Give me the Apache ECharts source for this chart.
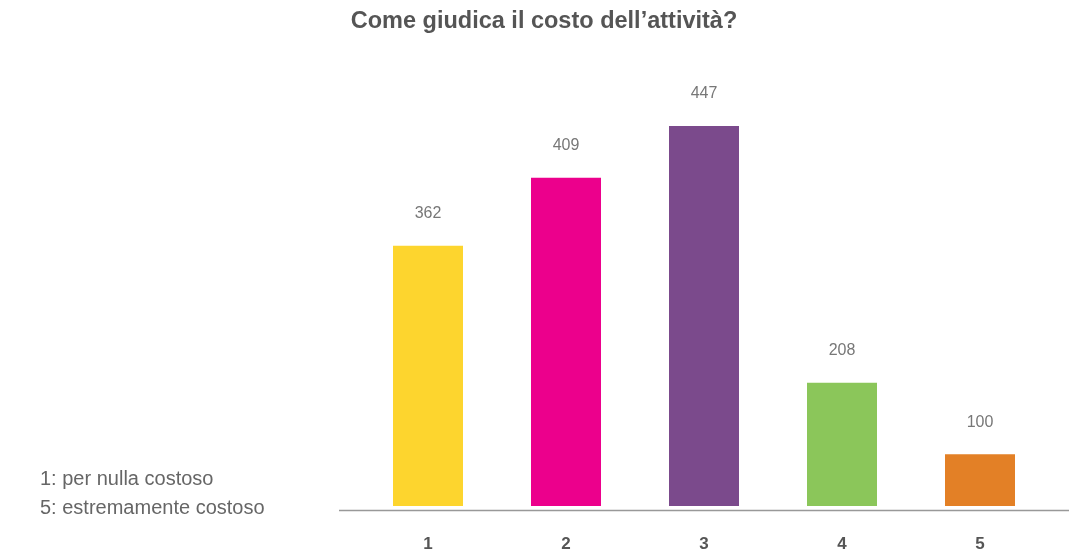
<!DOCTYPE html>
<html><head><meta charset="utf-8">
<script src="https://cdn.jsdelivr.net/npm/echarts@6/dist/echarts.min.js"></script>
<style>html,body{margin:0;padding:0;background:#fff}#c{width:1089px;height:558px}</style>
</head><body><div id="c"></div>
<script>
const title = 'Come giudica il costo dell\u2019attivit\u00e0?';
const categories = ['1', '2', '3', '4', '5'];
// numbers printed above the bars
const valueLabels = [362, 409, 447, 208, 100];
// bar lengths as drawn in the picture (the source chart is not to scale), in the same units as the tallest bar
const drawnHeights = [306, 386, 447, 145, 61];
const colors = ['#FDD52E', '#EC008C', '#7B4A8C', '#8BC65A', '#E38026'];
const noteLines = ['1: per nulla costoso', '5: estremamente costoso'];

const FONT = 'Liberation Sans, Arial, sans-serif';
const chart = echarts.init(document.getElementById('c'));
chart.setOption({
  animation: false,
  title: {
    text: title, left: 539, top: 5, textAlign: 'center',
    textStyle: {fontFamily: FONT, fontSize: 23.5, fontWeight: 'bold', color: '#555'}
  },
  grid: {left: 359, right: 40, top: 126, bottom: 52},
  xAxis: {
    type: 'category', data: categories,
    axisLine: {show: false}, axisTick: {show: false},
    axisLabel: {margin: 30, fontFamily: FONT, fontSize: 17, fontWeight: 'bold', color: '#555'}
  },
  yAxis: {type: 'value', min: 0, max: 447, show: false, splitLine: {show: false}},
  series: [{
    type: 'bar', barWidth: 70,
    data: drawnHeights.map((h, i) => ({value: h, itemStyle: {color: colors[i]}})),
    label: {
      show: true, position: 'top', distance: 24,
      formatter: p => String(valueLabels[p.dataIndex]),
      fontFamily: FONT, fontSize: 16, color: '#777'
    }
  }],
  graphic: [
    {type: 'line', shape: {x1: 339, y1: 510.5, x2: 1069, y2: 510.5}, style: {stroke: '#999', lineWidth: 1.5}},
    {type: 'text', left: 40, top: 465, style: {text: noteLines.join('\n'), lineHeight: 29, fontFamily: FONT, fontSize: 20, fill: '#666'}}
  ]
});
</script></body></html>
